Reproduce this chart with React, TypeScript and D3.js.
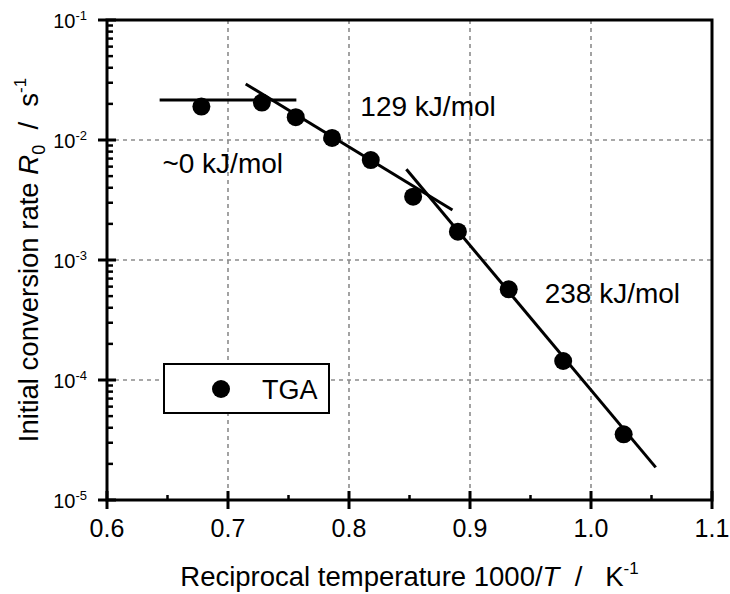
import React from "react";
import * as d3 from "d3";

const invT = [0.678, 0.728, 0.756, 0.786, 0.818, 0.853, 0.890, 0.932, 0.977, 1.027];
const rate = [0.0190, 0.0205, 0.0155, 0.0104, 0.0068, 0.00337, 0.00172, 0.00057, 0.000144, 0.0000353];

const fitFlat = { x: [0.6435, 0.7565], y: [0.0215, 0.0215] };
const fit129 = { x: [0.7146, 0.8855], y: [0.0293, 0.00261] };
const fit238 = { x: [0.8474, 1.0535], y: [0.0057, 0.0000187] };

const xTicks = [0.6, 0.7, 0.8, 0.9, 1.0, 1.1];
const xTickLabels = ["0.6", "0.7", "0.8", "0.9", "1.0", "1.1"];
const xMinor = [0.65, 0.75, 0.85, 0.95, 1.05];
const yExps = [-1, -2, -3, -4, -5];

const annotations = [
  { text: "~0 kJ/mol", x: 0.6458, y: 0.0053 },
  { text: "129 kJ/mol", x: 0.8094, y: 0.0158 },
  { text: "238 kJ/mol", x: 0.9617, y: 0.000438 },
];

const FONT = "'Liberation Sans', Arial, Helvetica, sans-serif";

export default function App() {
  const W = 730, H = 594;
  const x = d3.scaleLinear().domain([0.6, 1.1]).range([107, 712]);
  const y = d3.scaleLog().domain([1e-5, 1e-1]).range([500, 20]);
  const line = d3.line<[number, number]>().x((d) => x(d[0])).y((d) => y(d[1]));
  const fits = [fitFlat, fit129, fit238];

  const minorY: number[] = [];
  for (let e = -5; e < -1; e++) {
    for (let m = 2; m <= 9; m++) minorY.push(m * Math.pow(10, e));
  }

  return (
    <svg width={W} height={H} style={{ position: "absolute", left: 0, top: 0, background: "#fff" }} fontFamily={FONT}>
      <rect x={0} y={0} width={W} height={H} fill="#fff" />
      {/* grid */}
      {xTicks.slice(1, -1).map((t) => (
        <line key={"gx" + t} x1={x(t)} x2={x(t)} y1={y(1e-1)} y2={y(1e-5)} stroke="#8c8c8c" strokeWidth={1.6} strokeDasharray="4,4" />
      ))}
      {yExps.slice(1, -1).map((e) => (
        <line key={"gy" + e} x1={x(0.6)} x2={x(1.1)} y1={y(Math.pow(10, e))} y2={y(Math.pow(10, e))} stroke="#8c8c8c" strokeWidth={1.6} strokeDasharray="4,4" />
      ))}
      {/* frame */}
      <rect x={x(0.6)} y={y(1e-1)} width={x(1.1) - x(0.6)} height={y(1e-5) - y(1e-1)} fill="none" stroke="#000" strokeWidth={3} />
      {/* x ticks */}
      {xTicks.map((t, i) => (
        <g key={"xt" + t}>
          <line x1={x(t)} x2={x(t)} y1={y(1e-5) - 9} y2={y(1e-5) + 9} stroke="#000" strokeWidth={3} />
          <text x={x(t)} y={y(1e-5) + 37} textAnchor="middle" fontSize={25}>{xTickLabels[i]}</text>
        </g>
      ))}
      {xMinor.map((t) => (
        <line key={"xm" + t} x1={x(t)} x2={x(t)} y1={y(1e-5)} y2={y(1e-5) - 5} stroke="#000" strokeWidth={2.5} />
      ))}
      {/* y ticks */}
      {yExps.map((e) => (
        <g key={"yt" + e}>
          <line x1={x(0.6) - 9} x2={x(0.6) + 9} y1={y(Math.pow(10, e))} y2={y(Math.pow(10, e))} stroke="#000" strokeWidth={3} />
          <text x={87} y={y(Math.pow(10, e)) + 8} textAnchor="end" fontSize={20}>
            10<tspan dy={-8} fontSize={13}>{String(e)}</tspan>
          </text>
        </g>
      ))}
      {minorY.map((v, i) => (
        <line key={"ym" + i} x1={x(0.6)} x2={x(0.6) + 6} y1={y(v)} y2={y(v)} stroke="#000" strokeWidth={2.5} />
      ))}
      {/* fits */}
      {fits.map((f, i) => (
        <path key={"f" + i} d={line(f.x.map((v, j) => [v, f.y[j]] as [number, number])) || ""} fill="none" stroke="#000" strokeWidth={3} />
      ))}
      {/* points */}
      {invT.map((v, i) => (
        <circle key={"p" + i} cx={x(v)} cy={y(rate[i])} r={9} fill="#000" />
      ))}
      {/* annotations */}
      {annotations.map((a) => (
        <text key={a.text} x={x(a.x)} y={y(a.y)} fontSize={28}>{a.text}</text>
      ))}
      {/* legend */}
      <rect x={164} y={364} width={165} height={49} fill="#fff" stroke="#000" strokeWidth={2} />
      <circle cx={221} cy={389} r={9} fill="#000" />
      <text x={262} y={399} fontSize={27}>TGA</text>
      {/* axis titles */}
      <text x={(x(0.6) + x(1.1)) / 2} y={586} textAnchor="middle" fontSize={27.5} style={{ whiteSpace: "pre" }}>
        Reciprocal temperature 1000/<tspan fontStyle="italic">T</tspan>{"  /   K"}<tspan dy={-12} fontSize={17}>-1</tspan>
      </text>
      <text transform={`translate(38,${(y(1e-1) + y(1e-5)) / 2}) rotate(-90)`} textAnchor="middle" fontSize={27.5} style={{ whiteSpace: "pre" }}>
        Initial conversion rate <tspan fontStyle="italic">R</tspan><tspan dy={7} fontSize={18}>0</tspan><tspan dy={-7}>{"  /  s"}</tspan><tspan dy={-12} fontSize={17}>-1</tspan>
      </text>
    </svg>
  );
}
